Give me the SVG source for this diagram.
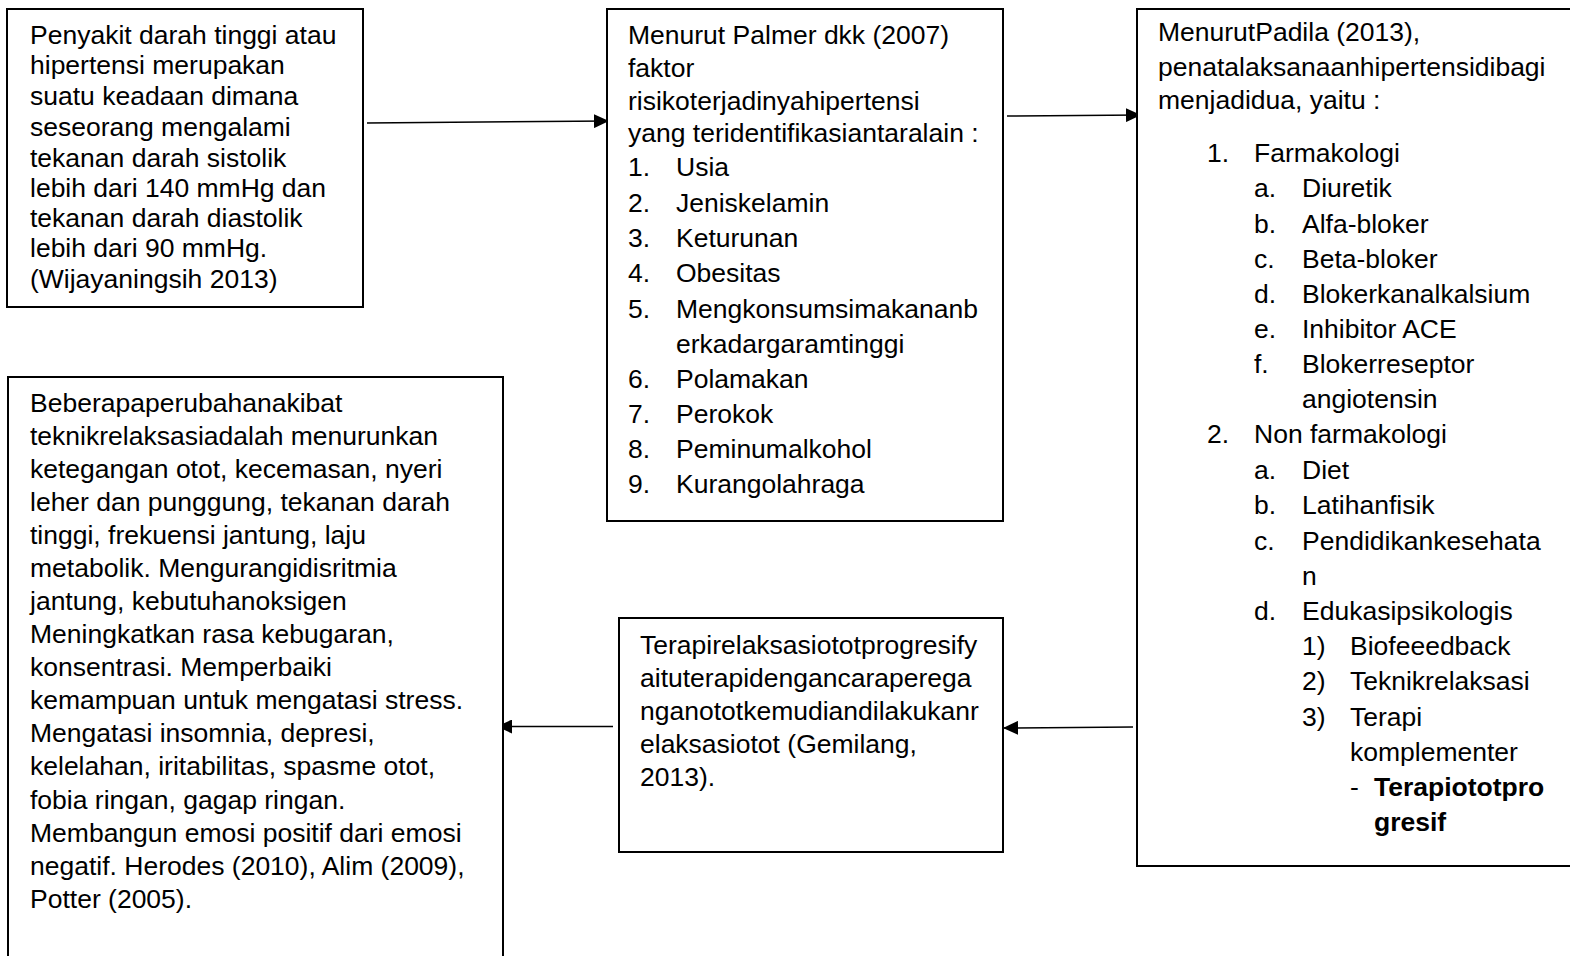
<svg xmlns="http://www.w3.org/2000/svg" width="1570" height="956" viewBox="0 0 1570 956">
<defs>
<style>
.box{fill:#fff;stroke:#000;stroke-width:2}
.t{font-family:"Liberation Sans",Arial,sans-serif;font-size:26.5px;fill:#000}
.b{font-weight:bold}
.c{stroke:#000;stroke-width:1.5;fill:none}
</style>
<marker id="ah" viewBox="0 0 15 14" refX="15" refY="7" markerWidth="15" markerHeight="14" markerUnits="userSpaceOnUse" orient="auto">
<path d="M0,0 L15,7 L0,14 z" fill="#000"/>
</marker>
</defs>
<rect width="1570" height="956" fill="#fff"/>
<g id="connectors">
<line class="c" x1="367" y1="123" x2="609" y2="121" marker-end="url(#ah)"/>
<line class="c" x1="1007" y1="116" x2="1141" y2="115" marker-end="url(#ah)"/>
<line class="c" x1="1133" y1="727" x2="1003" y2="728" marker-end="url(#ah)"/>
<line class="c" x1="613" y1="726.5" x2="497" y2="726.5" marker-end="url(#ah)"/>
</g>
<g id="node1">
<rect class="box" x="7" y="9" width="356" height="298"/>
<text class="t" x="30" y="44">Penyakit darah tinggi atau</text>
<text class="t" x="30" y="74">hipertensi merupakan</text>
<text class="t" x="30" y="105">suatu keadaan dimana</text>
<text class="t" x="30" y="136">seseorang mengalami</text>
<text class="t" x="30" y="167">tekanan darah sistolik</text>
<text class="t" x="30" y="197">lebih dari 140 mmHg dan</text>
<text class="t" x="30" y="227">tekanan darah diastolik</text>
<text class="t" x="30" y="257">lebih dari 90 mmHg.</text>
<text class="t" x="30" y="288">(Wijayaningsih 2013)</text>
</g>
<g id="node2">
<rect class="box" x="607" y="9" width="396" height="512"/>
<text class="t" x="628" y="44">Menurut Palmer dkk (2007)</text>
<text class="t" x="628" y="77">faktor</text>
<text class="t" x="628" y="110">risikoterjadinyahipertensi</text>
<text class="t" x="628" y="142">yang teridentifikasiantaralain :</text>
<text class="t" x="628" y="176">1.</text><text class="t" x="676" y="176">Usia</text>
<text class="t" x="628" y="212">2.</text><text class="t" x="676" y="212">Jeniskelamin</text>
<text class="t" x="628" y="247">3.</text><text class="t" x="676" y="247">Keturunan</text>
<text class="t" x="628" y="282">4.</text><text class="t" x="676" y="282">Obesitas</text>
<text class="t" x="628" y="318">5.</text><text class="t" x="676" y="318">Mengkonsumsimakananb</text>
<text class="t" x="676" y="353">erkadargaramtinggi</text>
<text class="t" x="628" y="388">6.</text><text class="t" x="676" y="388">Polamakan</text>
<text class="t" x="628" y="423">7.</text><text class="t" x="676" y="423">Perokok</text>
<text class="t" x="628" y="458">8.</text><text class="t" x="676" y="458">Peminumalkohol</text>
<text class="t" x="628" y="493">9.</text><text class="t" x="676" y="493">Kurangolahraga</text>
</g>
<g id="node3">
<rect class="box" x="1137" y="9" width="440" height="857"/>
<text class="t" x="1158" y="41">MenurutPadila (2013),</text>
<text class="t" x="1158" y="76">penatalaksanaanhipertensidibagi</text>
<text class="t" x="1158" y="109">menjadidua, yaitu :</text>
<text class="t" x="1207" y="162">1.</text><text class="t" x="1254" y="162">Farmakologi</text>
<text class="t" x="1254" y="197">a.</text><text class="t" x="1302" y="197">Diuretik</text>
<text class="t" x="1254" y="233">b.</text><text class="t" x="1302" y="233">Alfa-bloker</text>
<text class="t" x="1254" y="268">c.</text><text class="t" x="1302" y="268">Beta-bloker</text>
<text class="t" x="1254" y="303">d.</text><text class="t" x="1302" y="303">Blokerkanalkalsium</text>
<text class="t" x="1254" y="338">e.</text><text class="t" x="1302" y="338">Inhibitor ACE</text>
<text class="t" x="1254" y="373">f.</text><text class="t" x="1302" y="373">Blokerreseptor</text>
<text class="t" x="1302" y="408">angiotensin</text>
<text class="t" x="1207" y="443">2.</text><text class="t" x="1254" y="443">Non farmakologi</text>
<text class="t" x="1254" y="479">a.</text><text class="t" x="1302" y="479">Diet</text>
<text class="t" x="1254" y="514">b.</text><text class="t" x="1302" y="514">Latihanfisik</text>
<text class="t" x="1254" y="550">c.</text><text class="t" x="1302" y="550">Pendidikankesehata</text>
<text class="t" x="1302" y="585">n</text>
<text class="t" x="1254" y="620">d.</text><text class="t" x="1302" y="620">Edukasipsikologis</text>
<text class="t" x="1302" y="655">1)</text><text class="t" x="1350" y="655">Biofeeedback</text>
<text class="t" x="1302" y="690">2)</text><text class="t" x="1350" y="690">Teknikrelaksasi</text>
<text class="t" x="1302" y="726">3)</text><text class="t" x="1350" y="726">Terapi</text>
<text class="t" x="1350" y="761">komplementer</text>
<text class="t" x="1350" y="796">-</text><text class="t b" x="1374" y="796">Terapiototpro</text>
<text class="t b" x="1374" y="831">gresif</text>
</g>
<g id="node4">
<rect class="box" x="8" y="377" width="495" height="590"/>
<text class="t" x="30" y="412">Beberapaperubahanakibat</text>
<text class="t" x="30" y="445">teknikrelaksasiadalah menurunkan</text>
<text class="t" x="30" y="478">ketegangan otot, kecemasan, nyeri</text>
<text class="t" x="30" y="511">leher dan punggung, tekanan darah</text>
<text class="t" x="30" y="544">tinggi, frekuensi jantung, laju</text>
<text class="t" x="30" y="577">metabolik. Mengurangidisritmia</text>
<text class="t" x="30" y="610">jantung, kebutuhanoksigen</text>
<text class="t" x="30" y="643">Meningkatkan rasa kebugaran,</text>
<text class="t" x="30" y="676">konsentrasi. Memperbaiki</text>
<text class="t" x="30" y="709">kemampuan untuk mengatasi stress.</text>
<text class="t" x="30" y="742">Mengatasi insomnia, depresi,</text>
<text class="t" x="30" y="775">kelelahan, iritabilitas, spasme otot,</text>
<text class="t" x="30" y="809">fobia ringan, gagap ringan.</text>
<text class="t" x="30" y="842">Membangun emosi positif dari emosi</text>
<text class="t" x="30" y="875">negatif. Herodes (2010), Alim (2009),</text>
<text class="t" x="30" y="908">Potter (2005).</text>
</g>
<g id="node5">
<rect class="box" x="619" y="618" width="384" height="234"/>
<text class="t" x="640" y="654">Terapirelaksasiototprogresify</text>
<text class="t" x="640" y="687">aituterapidengancaraperega</text>
<text class="t" x="640" y="720">nganototkemudiandilakukanr</text>
<text class="t" x="640" y="753">elaksasiotot (Gemilang,</text>
<text class="t" x="640" y="786">2013).</text>
</g>
</svg>
